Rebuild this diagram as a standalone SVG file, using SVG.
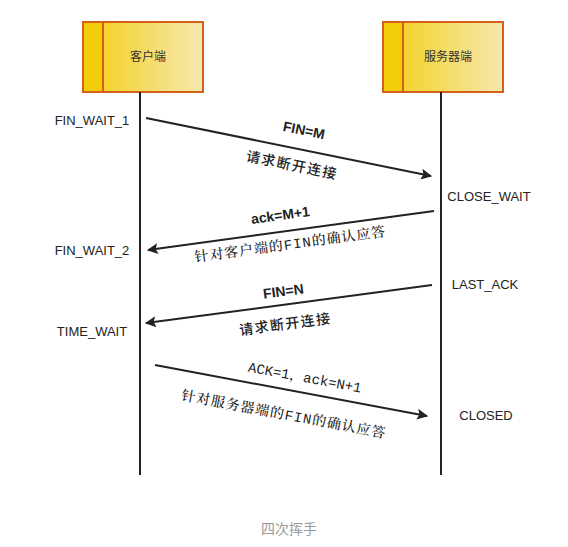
<svg xmlns="http://www.w3.org/2000/svg" width="568" height="547" viewBox="0 0 568 547">
<defs>
<linearGradient id="g" x1="0" y1="0" x2="1" y2="0">
<stop offset="0" stop-color="#f4cf14"/>
<stop offset="1" stop-color="#f5e8b0"/>
</linearGradient>
<marker id="ah" viewBox="0 0 10 10" refX="9" refY="5" markerWidth="17" markerHeight="11" markerUnits="userSpaceOnUse" orient="auto">
<path d="M0,0 L10,5 L0,10 L2,5 Z" fill="#222"/>
</marker>
<style>
.box{fill:url(#g);stroke:#d4601c;stroke-width:2}
.side{fill:#f2cd0a;stroke:#d4601c;stroke-width:2}
.life{stroke:#222;stroke-width:2;fill:none}
.msg{stroke:#222;stroke-width:2;fill:none;marker-end:url(#ah)}
.nt{font-family:"Noto Sans CJK SC",sans-serif;font-size:12px;fill:#333;text-anchor:middle}
.st{font-family:"Liberation Sans",Arial,sans-serif;font-size:13px;fill:#222;text-anchor:middle}
.lb{font-family:"Liberation Sans",Arial,sans-serif;font-weight:bold;font-size:14px;fill:#222;text-anchor:middle}
.cn{font-family:"Noto Sans CJK SC",sans-serif;font-size:14px;font-weight:500;letter-spacing:1.5px;fill:#222;text-anchor:middle}
.sf{font-family:"Liberation Mono","Noto Serif CJK SC","Noto Sans CJK SC",monospace;font-size:14px;font-weight:500;letter-spacing:1px;fill:#222;text-anchor:middle}
.cap{font-family:"Noto Sans CJK SC",sans-serif;font-size:14px;fill:#999;text-anchor:middle}
</style>
</defs>
<rect width="568" height="547" fill="#fff"/>
<g id="client">
<rect class="box" x="83" y="22" width="120" height="70"/>
<rect class="side" x="83" y="22" width="20" height="70"/>
<text class="nt" x="148" y="61">客户端</text>
</g>
<g id="server">
<rect class="box" x="383" y="22" width="120" height="70"/>
<rect class="side" x="383" y="22" width="20" height="70"/>
<text class="nt" x="448" y="61">服务器端</text>
</g>
<g id="connectors">
<line class="life" x1="140" y1="92" x2="140" y2="475"/>
<line class="life" x1="441" y1="92" x2="441" y2="475"/>
<line class="msg" x1="146" y1="118" x2="431" y2="176"/>
<line class="msg" x1="434" y1="211" x2="148" y2="250"/>
<line class="msg" x1="432" y1="285" x2="146" y2="323"/>
<line class="msg" x1="155" y1="365" x2="427" y2="416"/>
</g>
<g id="labels">
<text class="lb" transform="translate(303,135) rotate(11.5)">FIN=M</text>
<text class="cn" transform="translate(291,170) rotate(11.5)">请求断开连接</text>
<text class="lb" transform="translate(281,220) rotate(-7.8)">ack=M+1</text>
<text class="sf" transform="translate(291,249) rotate(-7.8)">针对客户端的FIN的确认应答</text>
<text class="lb" transform="translate(284,296) rotate(-7.6)">FIN=N</text>
<text class="cn" transform="translate(286,329) rotate(-7.6)">请求断开连接</text>
<text class="sf" style="letter-spacing:0" transform="translate(304,382) rotate(10.6)">ACK=1，ack=N+1</text>
<text class="sf" transform="translate(283,419) rotate(10.6)">针对服务器端的FIN的确认应答</text>
</g>
<g id="states">
<text class="st" x="92" y="125">FIN_WAIT_1</text>
<text class="st" x="92" y="255">FIN_WAIT_2</text>
<text class="st" x="92" y="336">TIME_WAIT</text>
<text class="st" x="489" y="201">CLOSE_WAIT</text>
<text class="st" x="485" y="289">LAST_ACK</text>
<text class="st" x="486" y="420">CLOSED</text>
</g>
<text class="cap" x="289" y="534">四次挥手</text>
</svg>
